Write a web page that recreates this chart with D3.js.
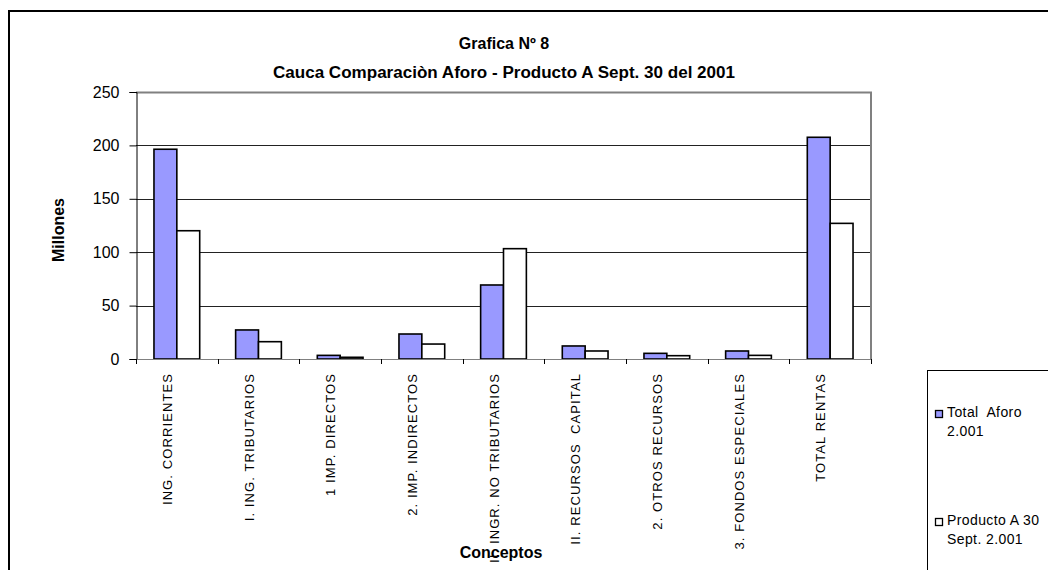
<!DOCTYPE html>
<html>
<head>
<meta charset="utf-8">
<script src="https://cdn.jsdelivr.net/npm/d3@7"></script>
<style>
  body { margin: 0; background: #fff; }
  text { font-family: "Liberation Sans", Arial, sans-serif; white-space: pre; }
</style>
</head>
<body>
<svg id="chart"></svg>
<script>
var categories = ["ING. CORRIENTES", "I. ING. TRIBUTARIOS", "1 IMP. DIRECTOS", "2. IMP. INDIRECTOS",
  "II. INGR. NO TRIBUTARIOS", "II. RECURSOS  CAPITAL", "2. OTROS RECURSOS", "3. FONDOS ESPECIALES", "TOTAL RENTAS"];
var totalAforo = [196.4, 27.2, 3.4, 23.4, 69.3, 12.2, 5.3, 7.5, 207.6];
var productoA = [120.1, 16.2, 1.6, 14.0, 103.3, 7.5, 3.1, 3.4, 127.0];
var seriesNames = ["Total Aforo 2.001", "Producto A 30 Sept. 2.001"];
var legendLines = [["Total  Aforo", "2.001"], ["Producto A 30", "Sept. 2.001"]];
var yTicks = [0, 50, 100, 150, 200, 250];

var W = 1048, H = 570;
var plot = {left: 136, right: 871, top: 92, bottom: 359};

var svg = d3.select("#chart").attr("width", W).attr("height", H);

// outer chart frame
svg.append("rect").attr("x", 9).attr("y", 11).attr("width", W).attr("height", H)
  .attr("fill", "none").attr("stroke", "#000").attr("stroke-width", 2);

var x0 = d3.scaleBand().domain(categories).range([plot.left, plot.right])
  .paddingInner(0.44).paddingOuter(0.22);
var x1 = d3.scaleBand().domain([0, 1]).range([0, x0.bandwidth()]);
var y = d3.scaleLinear().domain([0, 250]).range([plot.bottom, plot.top]);

// gridlines
svg.append("g").selectAll("line").data(yTicks.filter(function (d) { return d > 0 && d < 250; }))
  .enter().append("line")
  .attr("x1", plot.left).attr("x2", plot.right)
  .attr("y1", function (d) { return Math.round(y(d)) + 0.5; })
  .attr("y2", function (d) { return Math.round(y(d)) + 0.5; })
  .attr("stroke", "#222").attr("stroke-width", 1);

// plot area top/right border
svg.append("path")
  .attr("d", "M" + plot.left + "," + (y(250) + 0.5) + "H" + plot.right + "V" + plot.bottom)
  .attr("fill", "none").attr("stroke", "#808080").attr("stroke-width", 2);

// bars
var rows = categories.map(function (c, i) { return {cat: c, vals: [totalAforo[i], productoA[i]]}; });
var fills = ["#9999FF", "#FFFFFF"];
svg.append("g").selectAll("g").data(rows).enter().append("g")
  .attr("transform", function (d) { return "translate(" + x0(d.cat) + ",0)"; })
  .selectAll("rect").data(function (d) { return d.vals; }).enter().append("rect")
  .attr("x", function (d, i) { return x1(i); })
  .attr("y", function (d) { return y(d); })
  .attr("width", x1.bandwidth())
  .attr("height", function (d) { return y(0) - y(d); })
  .attr("fill", function (d, i) { return fills[i]; })
  .attr("stroke", "#000").attr("stroke-width", 1.6);

// y axis
var yAxis = svg.append("g").attr("transform", "translate(" + (plot.left + 0.5) + ",0)")
  .call(d3.axisLeft(y).tickValues(yTicks).tickSize(7).tickPadding(10));
yAxis.select(".domain").attr("stroke", "#000");
yAxis.selectAll("text").style("font-size", "16px").attr("fill", "#000")
  .style("font-family", "'Liberation Sans', Arial, sans-serif");

// x axis (ticks at category boundaries)
var step = x0.step();
var boundaries = d3.range(categories.length + 1).map(function (i) { return plot.left + i * step; });
svg.append("line").attr("x1", plot.left).attr("x2", plot.right)
  .attr("y1", plot.bottom + 0.5).attr("y2", plot.bottom + 0.5)
  .attr("stroke", "#808080").attr("stroke-width", 1);
svg.append("g").selectAll("line").data(boundaries).enter().append("line")
  .attr("x1", function (d) { return Math.round(d) + 0.5; })
  .attr("x2", function (d) { return Math.round(d) + 0.5; })
  .attr("y1", plot.bottom).attr("y2", plot.bottom + 5)
  .attr("stroke", "#000");

svg.append("g").selectAll("text").data(categories).enter().append("text")
  .attr("transform", function (d) {
    return "translate(" + (x0(d) + x0.bandwidth() / 2 - 5) + "," + (plot.bottom + 14) + ") rotate(-90)";
  })
  .attr("text-anchor", "end")
  .style("font-size", "13px")
  .style("letter-spacing", "1.1px")
  .text(function (d) { return d; });

// titles
svg.append("text").attr("x", 504).attr("y", 49).attr("text-anchor", "middle")
  .style("font-size", "16px").style("font-weight", "bold").text("Grafica Nº 8");
svg.append("text").attr("x", 504).attr("y", 78).attr("text-anchor", "middle")
  .attr("textLength", 462).attr("lengthAdjust", "spacingAndGlyphs")
  .style("font-size", "16px").style("font-weight", "bold")
  .text("Cauca Comparaciòn Aforo - Producto A Sept. 30 del 2001");

svg.append("text").attr("x", 501).attr("y", 558).attr("text-anchor", "middle")
  .style("font-size", "16px").style("font-weight", "bold").text("Conceptos");
svg.append("text").attr("transform", "translate(64,230) rotate(-90)").attr("text-anchor", "middle")
  .style("font-size", "16px").style("font-weight", "bold").text("Millones");

// legend
svg.append("rect").attr("x", 927.5).attr("y", 370.5).attr("width", 200).attr("height", 300)
  .attr("fill", "#fff").attr("stroke", "#000").attr("stroke-width", 1);
var leg = svg.append("g").selectAll("g").data(seriesNames).enter().append("g")
  .attr("transform", function (d, i) { return "translate(935," + (410 + i * 108) + ")"; });
leg.append("rect").attr("x", 0.5).attr("y", 0.5).attr("width", 7).attr("height", 7)
  .attr("fill", function (d, i) { return fills[i]; }).attr("stroke", "#000").attr("stroke-width", 1.3);
leg.each(function (d, i) {
  var t = d3.select(this).append("text").style("font-size", "14px").style("letter-spacing", "0.4px");
  legendLines[i].forEach(function (line, j) {
    t.append("tspan").attr("x", 12).attr("y", 7 + j * 19).text(line);
  });
});
</script>
</body>
</html>
